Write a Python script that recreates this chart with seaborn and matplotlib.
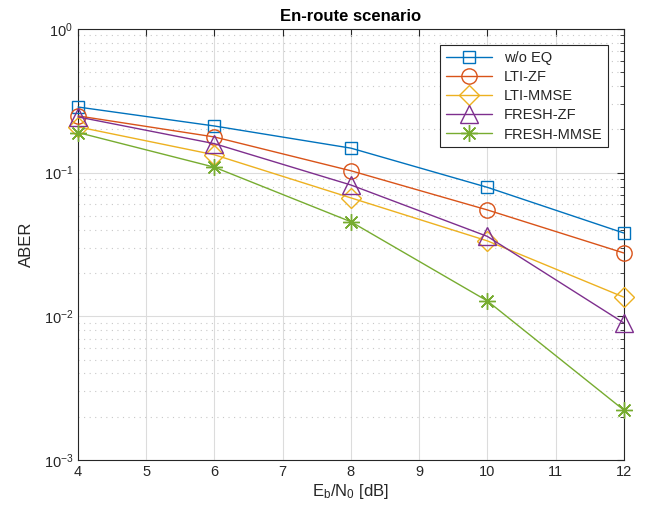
import numpy as np
import pandas as pd
import matplotlib
matplotlib.use("Agg")
import matplotlib.pyplot as plt
import seaborn as sns
from matplotlib.ticker import LogLocator, NullFormatter

# Data
ebn0 = [4, 6, 8, 10, 12]
wo_eq = [0.286, 0.211, 0.148, 0.079, 0.038]
lti_zf = [0.248, 0.177, 0.103, 0.055, 0.0276]
lti_mmse = [0.208, 0.133, 0.0667, 0.0335, 0.0136]
fresh_zf = [0.244, 0.159, 0.082, 0.036, 0.009]
fresh_mmse = [0.19, 0.109, 0.0455, 0.0128, 0.00223]

series_names = ["w/o EQ", "LTI-ZF", "LTI-MMSE", "FRESH-ZF", "FRESH-MMSE"]
series_values = [wo_eq, lti_zf, lti_mmse, fresh_zf, fresh_mmse]
colors = ["#0072BD", "#D95319", "#EDB120", "#7E2F8E", "#77AC30"]
markers = ["s", "o", "D", "^", (8, 2, 0)]
msizes = [9, 11, 10, 13, 12]

sns.set_style("white")
plt.rcParams['font.family'] = ['Liberation Sans', 'DejaVu Sans']
plt.rcParams['mathtext.fontset'] = 'custom'
plt.rcParams['mathtext.rm'] = 'Liberation Sans'
plt.rcParams['mathtext.it'] = 'Liberation Sans'

fig = plt.figure(figsize=(6.45, 5.16), dpi=100)
ax = fig.add_axes([0.121, 0.1085, 0.846, 0.8355])

for name, vals, c, m, ms in zip(series_names, series_values, colors, markers, msizes):
    df = pd.DataFrame({"x": ebn0, "y": vals})
    sns.lineplot(data=df, x="x", y="y", ax=ax, color=c, marker=m, markersize=ms,
                 markerfacecolor='none', markeredgecolor=c, markeredgewidth=1.0,
                 linewidth=1.0, label=name, clip_on=False, zorder=3)

ax.set_yscale("log")
ax.set_xlim(4, 12)
ax.set_ylim(1e-3, 1)
ax.set_xticks(range(4, 13))
ax.yaxis.set_major_locator(LogLocator(base=10, numticks=10))
ax.yaxis.set_minor_locator(LogLocator(base=10, subs=np.arange(2, 10), numticks=20))
ax.yaxis.set_minor_formatter(NullFormatter())

ax.grid(True, which='major', color='#dcdcdc', linewidth=0.8, linestyle='-')
ax.grid(True, which='minor', axis='y', color='#c8c8c8', linewidth=0.8, linestyle=(0, (1, 4)))
ax.set_axisbelow(True)

ax.tick_params(axis='both', which='both', direction='in', top=True, right=True,
               colors='#262626', labelsize=10.5)
ax.tick_params(which='major', length=5)
ax.tick_params(which='minor', length=3)
for s in ax.spines.values():
    s.set_color('#262626')
    s.set_linewidth(0.8)

ax.set_xlabel(r'E$_\mathrm{b}$/N$_\mathrm{0}$ [dB]', fontsize=12, color='#262626', labelpad=2)
ax.set_ylabel('ABER', fontsize=12, color='#262626', labelpad=7)
ax.set_title('En-route scenario', fontsize=12, fontweight='bold', color='black', pad=6)

leg = ax.legend(loc='upper right', bbox_to_anchor=(0.972, 0.962), borderaxespad=0,
                fontsize=10.5, fancybox=False, framealpha=1, edgecolor='#262626',
                handlelength=3.2, borderpad=0.4, labelspacing=0.35)
leg.get_frame().set_linewidth(0.8)
leg.set_zorder(5)

fig.savefig("out.png", dpi=100)
